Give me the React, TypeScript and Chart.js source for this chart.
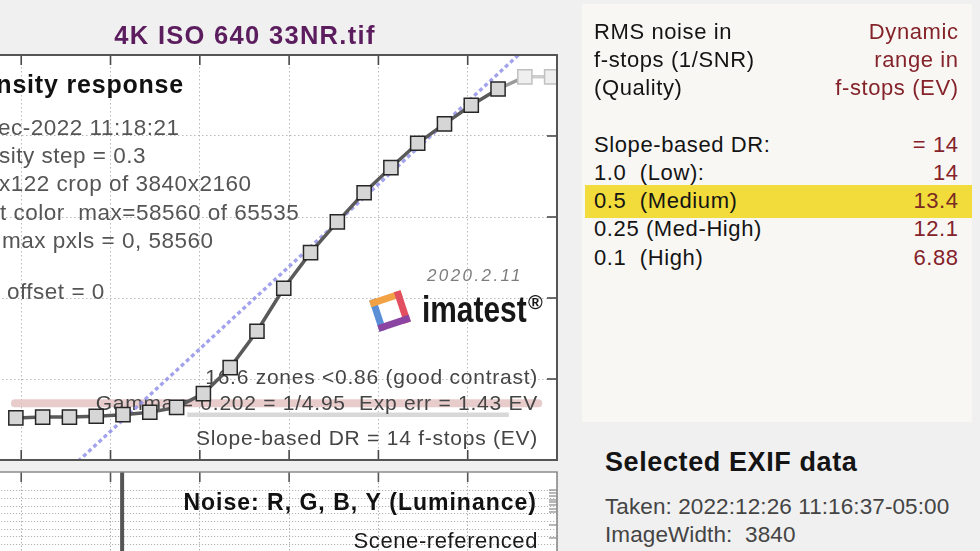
import React, { useEffect, useRef } from "react";
import { Chart, registerables } from "chart.js";

Chart.register(...registerables);

const FONT = '"Liberation Sans", Arial, Helvetica, sans-serif';

// ---------- Density response (upper plot) ----------
const logExposure = [-6.06, -5.76, -5.46, -5.16, -4.86, -4.56, -4.26, -3.96, -3.66, -3.36, -3.06, -2.76, -2.46, -2.16, -1.86, -1.56, -1.26, -0.96, -0.66, -0.36, -0.06];
const logPixelLevel = [0.52, 0.53, 0.53, 0.54, 0.56, 0.59, 0.65, 0.82, 1.14, 1.59, 2.12, 2.56, 2.94, 3.3, 3.61, 3.91, 4.15, 4.38, 4.58, 4.73, 4.73];
const saturatedFrom = 19;
const slopeFitX = [-6.4, 0];
const slopeFitY = [-1.07, 5.44];
const upperLevelX = [-6.07, -0.21];
const upperLevelY = [0.7, 0.7];
const lowerLevelX = [-4.14, -0.54];
const lowerLevelY = [0.56, 0.56];
const exposureTicks = [-6, -5, -4, -3, -2, -1, 0];
const densityTicks = [0, 1, 2, 3, 4, 5];

// ---------- Noise (lower plot) ----------
const noiseTraceX = [-4.87, -4.87];
const noiseTraceY = [16.5, 0];
const noiseGridTicks = [0, 1, 2, 3, 4, 5, 6, 7, 8, 9, 10, 11, 12, 13, 14];
const noiseMinorTicks = [14.13, 13.74, 13.34, 12.82, 12.55, 12.16, 11.63, 11.24, 9.53, 7.82];

// ---------- Text ----------
const plotTitle = "4K ISO 640 33NR.tif";
const densityTitle = "Density response";
const infoLines = ["26-Dec-2022 11:18:21", "Density step = 0.3", "200x122 crop of 3840x2160", "Input color  max=58560 of 65535", "Min, max pxls = 0, 58560", "", "Dark offset = 0"];
const infoCut = [4, 3, 3, 4, 5, 0, 5];
const resultLines = ["16.6 zones <0.86 (good contrast)", "Gamma = 0.202 = 1/4.95  Exp err = 1.43 EV", "Slope-based DR = 14 f-stops (EV)"];
const versionText = "2020.2.11";
const brandText = "imatest";
const noiseTitle = "Noise: R, G, B, Y (Luminance)";
const noiseSubtitle = "Scene-referenced";
const drHeaderLeft = ["RMS noise in", "f-stops (1/SNR)", "(Quality)"];
const drHeaderRight = ["Dynamic", "range in", "f-stops (EV)"];
const drQualities = ["Slope-based DR:", "1.0  (Low):", "0.5  (Medium)", "0.25 (Med-High)", "0.1  (High)"];
const drValues = ["= 14", "14", "13.4", "12.1", "6.88"];
const highlightRow = 2;
const exifTitle = "Selected EXIF data";
const exifLines = ["Taken: 2022:12:26 11:16:37-05:00", "ImageWidth:  3840"];

const pts = (xs: number[], ys: number[]) => xs.map((x, i) => ({ x, y: ys[i] }));

function mapper(chart: any, refRight: number, refTop: number) {
  const a = chart.chartArea;
  return {
    X: (px: number) => a.right - (refRight - px),
    Y: (py: number) => a.top + (py - refTop),
  };
}

function txt(ctx: any, s: string, x: number, y: number, font: string, ls: number, color: string, align: string) {
  ctx.font = font;
  ctx.letterSpacing = ls + "px";
  ctx.fillStyle = color;
  ctx.textAlign = align;
  ctx.textBaseline = "alphabetic";
  ctx.fillText(s, x, y);
}

function drawLogo(ctx: any, cx: number, cy: number, s: number) {
  ctx.save();
  ctx.translate(cx, cy);
  ctx.rotate(-0.32);
  const h = s / 2;
  ctx.lineWidth = 7;
  ctx.lineCap = "square";
  const sides: [number, number, number, number, string][] = [
    [-h, h, -h, -h, "#5a8fd8"],
    [-h, -h, h, -h, "#f2a244"],
    [h, -h, h, h, "#e24f60"],
    [h, h, -h, h, "#8c44a2"],
  ];
  sides.forEach(([x1, y1, x2, y2, c]) => {
    ctx.strokeStyle = c;
    ctx.beginPath();
    ctx.moveTo(x1, y1);
    ctx.lineTo(x2, y2);
    ctx.stroke();
  });
  ctx.restore();
}

const whiteArea = {
  id: "whiteArea",
  beforeDraw(chart: any) {
    const { ctx, chartArea: a } = chart;
    ctx.save();
    ctx.fillStyle = "#ffffff";
    ctx.fillRect(a.left, a.top, a.right - a.left, a.bottom - a.top);
    ctx.restore();
  },
};

const INFO_FONT = `22.5px ${FONT}`;

const densityDecor = {
  id: "densityDecor",
  afterDatasetDraw(chart: any, args: any) {
    if (args.index !== 3) return;
    const { ctx } = chart;
    const { X, Y } = mapper(chart, 557, 55);
    ctx.save();
    txt(ctx, densityTitle, X(184), Y(93), `bold 25px ${FONT}`, 0.8, "#111", "right");
    const ys = [127, 155, 183, 212, 240, 268, 291];
    const vx = [-2, -1, -1, 0, 2, 0, 7];
    infoLines.forEach((line, i) => {
      if (!line) return;
      ctx.font = INFO_FONT;
      ctx.letterSpacing = "0.5px";
      const w = ctx.measureText(line.slice(0, infoCut[i])).width;
      txt(ctx, line, X(vx[i]) - w, Y(ys[i] + 8), INFO_FONT, 0.5, "#555", "left");
    });
    const ry = [376, 402, 437];
    resultLines.forEach((line, i) => {
      txt(ctx, line, X(538), Y(ry[i] + 7.5), `21px ${FONT}`, 0.75, "#454545", "right");
    });
    txt(ctx, versionText, X(427), Y(281), `italic 17px ${FONT}`, 2.4, "#7c7c7c", "left");
    drawLogo(ctx, X(390), Y(311), 26);
    ctx.save();
    ctx.translate(X(422), Y(322));
    ctx.scale(0.83, 1);
    txt(ctx, brandText, 0, 0, `bold 36px ${FONT}`, 0, "#171717", "left");
    ctx.restore();
    txt(ctx, "\u00AE", X(528), Y(309), `bold 20px ${FONT}`, 0, "#171717", "left");
    ctx.restore();
  },
  afterDraw(chart: any) {
    const { ctx, chartArea: a, scales } = chart;
    ctx.save();
    ctx.strokeStyle = "#4a4a4a";
    ctx.lineWidth = 1.6;
    exposureTicks.forEach((v) => {
      if (v <= scales.x.min || v >= scales.x.max) return;
      const p = scales.x.getPixelForValue(v);
      ctx.beginPath();
      ctx.moveTo(p, a.top);
      ctx.lineTo(p, a.top + 10);
      ctx.moveTo(p, a.bottom);
      ctx.lineTo(p, a.bottom - 10);
      ctx.stroke();
    });
    densityTicks.forEach((v) => {
      if (v <= scales.y.min || v >= scales.y.max) return;
      const p = scales.y.getPixelForValue(v);
      ctx.beginPath();
      ctx.moveTo(a.right, p);
      ctx.lineTo(a.right - 10, p);
      ctx.stroke();
    });
    ctx.strokeStyle = "#555";
    ctx.lineWidth = 2;
    ctx.strokeRect(a.left, a.top, a.right - a.left, a.bottom - a.top);
    ctx.restore();
  },
};

const noiseDecor = {
  id: "noiseDecor",
  afterDatasetsDraw(chart: any) {
    const { ctx } = chart;
    const { X, Y } = mapper(chart, 557, 472);
    ctx.save();
    txt(ctx, noiseTitle, X(537), Y(510), `bold 23px ${FONT}`, 1, "#111", "right");
    txt(ctx, noiseSubtitle, X(538), Y(548), `22px ${FONT}`, 0.6, "#1a1a1a", "right");
    ctx.restore();
  },
  afterDraw(chart: any) {
    const { ctx, chartArea: a, scales } = chart;
    ctx.save();
    ctx.strokeStyle = "#555";
    ctx.lineWidth = 1.6;
    exposureTicks.forEach((v) => {
      if (v <= scales.x.min || v >= scales.x.max) return;
      const p = scales.x.getPixelForValue(v);
      ctx.beginPath();
      ctx.moveTo(p, a.top);
      ctx.lineTo(p, a.top + 10);
      ctx.stroke();
    });
    ctx.strokeStyle = "#888";
    ctx.lineWidth = 1.2;
    noiseMinorTicks.forEach((v) => {
      const p = scales.y.getPixelForValue(v);
      ctx.beginPath();
      ctx.moveTo(a.right, p);
      ctx.lineTo(a.right - 8, p);
      ctx.stroke();
    });
    ctx.strokeStyle = "#8c8c8c";
    ctx.lineWidth = 1.6;
    ctx.beginPath();
    ctx.moveTo(a.left, a.top);
    ctx.lineTo(a.right, a.top);
    ctx.lineTo(a.right, a.bottom);
    ctx.stroke();
    ctx.restore();
  },
};

const axis = (min: number, max: number, ticks: number[], color: string, dash: number[]) => ({
  type: "linear" as const,
  min,
  max,
  afterBuildTicks: (s: any) => {
    s.ticks = ticks.map((value) => ({ value }));
  },
  ticks: { display: false },
  grid: { color, lineWidth: 1, drawTicks: false },
  border: { display: false, dash },
});

export default function App() {
  const topRef = useRef<HTMLCanvasElement>(null);
  const botRef = useRef<HTMLCanvasElement>(null);

  useEffect(() => {
    const top = new Chart(topRef.current as HTMLCanvasElement, {
      type: "line",
      data: {
        datasets: [
          {
            label: "Density response",
            data: pts(logExposure, logPixelLevel),
            order: 0,
            borderColor: "#5a5a5a",
            borderWidth: 3.5,
            tension: 0,
            pointStyle: "rect",
            pointRadius: 10,
            pointBorderWidth: 1.5,
            pointBackgroundColor: (c: any) => (c.dataIndex >= saturatedFrom ? "#efefef" : "#d6d6d6"),
            pointBorderColor: (c: any) => (c.dataIndex >= saturatedFrom ? "#c0c0c0" : "#262626"),
            segment: {
              borderColor: (c: any) =>
                c.p1DataIndex > saturatedFrom ? "#cdcdcd" : c.p1DataIndex === saturatedFrom ? "#9a9a9a" : undefined,
            },
          } as any,
          {
            label: "Slope fit",
            data: pts(slopeFitX, slopeFitY),
            order: 1,
            borderColor: "rgba(140,140,232,0.8)",
            borderWidth: 3.4,
            borderDash: [4, 3],
            pointRadius: 0,
          },
          {
            label: "Upper level",
            data: pts(upperLevelX, upperLevelY),
            order: 3,
            borderColor: "rgba(226,190,190,0.8)",
            borderWidth: 8,
            borderCapStyle: "round",
            pointRadius: 0,
          },
          {
            label: "Lower level",
            data: pts(lowerLevelX, lowerLevelY),
            order: 2,
            borderColor: "rgba(214,214,214,0.95)",
            borderWidth: 4.5,
            pointRadius: 0,
          },
        ],
      },
      options: {
        animation: false,
        responsive: false,
        events: [],
        layout: { autoPadding: false, padding: { left: 25.5, right: 3, top: 15, bottom: 10 } },
        plugins: { legend: { display: false }, tooltip: { enabled: false } },
        scales: {
          x: axis(-6.4, 0, exposureTicks, "#b8b8b8", [1.5, 2.5]),
          y: axis(0, 5, densityTicks, "#b8b8b8", [1.5, 2.5]),
        },
      } as any,
      plugins: [whiteArea, densityDecor],
    });

    const bot = new Chart(botRef.current as HTMLCanvasElement, {
      type: "line",
      data: {
        datasets: [
          {
            label: "Noise",
            data: pts(noiseTraceX, noiseTraceY),
            borderColor: "#555555",
            borderWidth: 4,
            pointRadius: 0,
          },
        ],
      },
      options: {
        animation: false,
        responsive: false,
        events: [],
        layout: { autoPadding: false, padding: { left: 25.5, right: 3, top: 10, bottom: 14.6 } },
        plugins: { legend: { display: false }, tooltip: { enabled: false } },
        scales: {
          x: axis(-6.4, 0, exposureTicks, "#b0b0b0", [1.5, 2]),
          y: axis(0, 16.5, noiseGridTicks, "#b4b4b4", [1.2, 1.8]),
        },
      } as any,
      plugins: [whiteArea, noiseDecor],
    });

    return () => {
      top.destroy();
      bot.destroy();
    };
  }, []);

  const abs = (left: number, cy: number, size: number, extra: any = {}) => ({
    position: "absolute" as const,
    left,
    top: cy - 0.49 * size,
    fontSize: size,
    lineHeight: 1,
    whiteSpace: "pre" as const,
    ...extra,
  });

  const panelY = [32, 60, 88];
  const rowY = [145, 173, 201, 229, 258];

  return (
    <div
      style={{
        position: "fixed",
        left: 0,
        top: 0,
        width: 980,
        height: 551,
        overflow: "hidden",
        background: "#f0f0f0",
        fontFamily: FONT,
      }}
    >
      <canvas ref={topRef} width={600} height={430} style={{ position: "absolute", left: -40, top: 40, width: 600, height: 430 }} />
      <canvas ref={botRef} width={600} height={150} style={{ position: "absolute", left: -40, top: 462, width: 600, height: 150 }} />

      <div style={abs(0, 35, 25.5, { width: 490, textAlign: "center", fontWeight: "bold", color: "#5c1d5e", letterSpacing: 1.3 })}>{plotTitle}</div>

      <div style={{ position: "absolute", left: 582, top: 4, width: 390, height: 418, background: "#f9f7f4" }} />
      <div style={{ position: "absolute", left: 585, top: 185, width: 387, height: 33, background: "#f1dc3c" }} />

      {drHeaderLeft.map((s, i) => (
        <div key={"hl" + i} style={abs(594, panelY[i], 22, { color: "#141414", letterSpacing: 0.6 })}>{s}</div>
      ))}
      {drHeaderRight.map((s, i) => (
        <div key={"hr" + i} style={abs(700, panelY[i], 22, { width: 258.6, textAlign: "right", color: "#84232a", letterSpacing: 0.6 })}>{s}</div>
      ))}
      {drQualities.map((s, i) => (
        <div key={"q" + i} style={abs(594, rowY[i], 22, { color: "#141414", letterSpacing: 0.6 })}>{s}</div>
      ))}
      {drValues.map((s, i) => (
        <div key={"v" + i} style={abs(800, rowY[i], 22, { width: 158.6, textAlign: "right", color: i === highlightRow ? "#7a2a22" : "#84232a", letterSpacing: 0.6 })}>{s}</div>
      ))}

      <div style={abs(605, 462, 27, { fontWeight: "bold", color: "#141414", letterSpacing: 0.6 })}>{exifTitle}</div>
      {exifLines.map((s, i) => (
        <div key={"e" + i} style={abs(605, [507, 535][i], 22.5, { color: "#444", letterSpacing: 0.1 })}>{s}</div>
      ))}
    </div>
  );
}
